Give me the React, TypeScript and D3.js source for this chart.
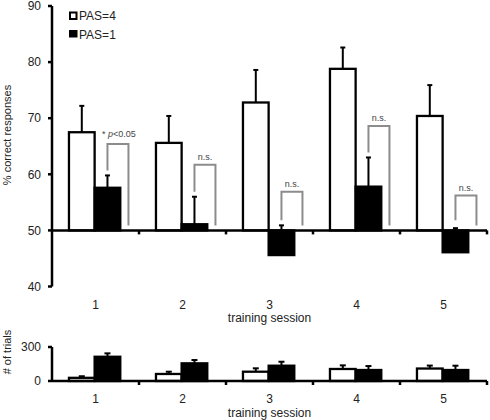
import React from 'react';
import * as d3 from 'd3';

const sessions = ['1', '2', '3', '4', '5'];
const pas4Pct = [67.5, 65.6, 72.8, 78.8, 70.4];
const pas4PctErr = [4.7, 4.8, 5.8, 3.8, 5.5];
const pas1Pct = [57.6, 51.1, 45.6, 57.8, 46.1];
const pas1PctErr = [2.2, 4.9, 5.3, 5.2, 4.3];
const bracketTop = [65.4, 61.7, 56.9, 68.6, 56.2];
const sigLabels = ['* p<0.05', 'n.s.', 'n.s.', 'n.s.', 'n.s.'];
const pas4Trials = [28, 62, 82, 106, 110];
const pas4TrialsErr = [14, 20, 30, 32, 26];
const pas1Trials = [214, 156, 135, 97, 97];
const pas1TrialsErr = [30, 29, 35, 35, 38];
const pctTicks = [40, 50, 60, 70, 80, 90];
const trialTicks = [0, 300];
const groups = ['PAS=4', 'PAS=1'];

const FONT = 'Arial, "Liberation Sans", sans-serif';

export default function App() {
  const x = d3.scaleBand<string>().domain(sessions).range([52, 487]).padding(0);
  const bw = x.bandwidth();
  const xs = d3.scaleBand<string>().domain(groups).range([bw * 0.195, bw * 0.785]).padding(0);
  const sw = xs.bandwidth();

  const y = d3.scaleLinear().domain([40, 90]).range([286.5, 6]);
  const y2 = d3.scaleLinear().domain([0, 300]).range([381, 347]);

  const boundaries = sessions.map((s) => (x(s) as number) + bw);

  const renderBars = (
    yS: d3.ScaleLinear<number, number>,
    base: number,
    v4: number[],
    e4: number[],
    v1: number[],
    e1: number[],
    cap: number
  ) =>
    sessions.map((s, i) => {
      const x0 = x(s) as number;
      const items = [
        { g: 'PAS=4', v: v4[i], e: e4[i], fill: '#fff' },
        { g: 'PAS=1', v: v1[i], e: e1[i], fill: '#000' },
      ];
      return (
        <g key={s}>
          {items.map((it) => {
            const bx = x0 + (xs(it.g) as number);
            const cx = bx + sw / 2;
            const top = Math.min(yS(it.v), yS(base));
            const h = Math.abs(yS(it.v) - yS(base));
            return (
              <g key={it.g}>
                <line x1={cx} x2={cx} y1={yS(it.v)} y2={yS(it.v + it.e)} stroke="#000" strokeWidth={2} />
                <line x1={cx - cap} x2={cx + cap} y1={yS(it.v + it.e)} y2={yS(it.v + it.e)} stroke="#000" strokeWidth={2} />
                <rect x={bx} y={top} width={sw} height={h} fill={it.fill} stroke="#000" strokeWidth={2.3} />
              </g>
            );
          })}
        </g>
      );
    });

  const base = y(50);

  return (
    <svg width={490} height={420} style={{ position: 'absolute', left: 0, top: 0, background: '#fff' }} fontFamily={FONT}>
      {/* upper chart */}
      {renderBars(y, 50, pas4Pct, pas4PctErr, pas1Pct, pas1PctErr, 2.5)}

      {/* significance brackets */}
      {sessions.map((s, i) => {
        const x0 = x(s) as number;
        const lx = x0 + (xs('PAS=1') as number) + sw / 2;
        const rx = lx + 21;
        const ty = y(bracketTop[i]);
        const errTop = Math.min(y(pas1Pct[i] + pas1PctErr[i]), y(50.9));
        const lb = errTop - 5;
        const rb = base - 5;
        const label = sigLabels[i];
        const cx = (lx + rx) / 2;
        return (
          <g key={'b' + s}>
            <path d={`M${lx},${lb}V${ty}H${rx}V${rb}`} fill="none" stroke="#8c8c8c" strokeWidth={2} />
            {label.startsWith('*') ? (
              <text x={cx + 1} y={ty - 7} textAnchor="middle" fontSize={9} fill="#444">
                {'* '}
                <tspan fontStyle="italic">p</tspan>
                {label.replace('* p', '')}
              </text>
            ) : (
              <text x={cx} y={ty - 5} textAnchor="middle" fontSize={9} fill="#444">
                {label}
              </text>
            )}
          </g>
        );
      })}

      {/* y axis upper */}
      <line x1={52} x2={52} y1={y(90)} y2={y(40)} stroke="#000" strokeWidth={2.5} />
      {pctTicks.map((t) => (
        <g key={'yt' + t}>
          <line x1={48} x2={52} y1={y(t)} y2={y(t)} stroke="#000" strokeWidth={2.5} />
          <text x={41} y={y(t)} dy="0.35em" textAnchor="end" fontSize={12} fill="#222">
            {t}
          </text>
        </g>
      ))}
      {/* x axis upper */}
      <line x1={52} x2={487} y1={base} y2={base} stroke="#000" strokeWidth={2.5} />
      {boundaries.map((b, i) => (
        <line key={'xt' + i} x1={b} x2={b} y1={base} y2={base + 4} stroke="#000" strokeWidth={2.5} />
      ))}
      {sessions.map((s) => (
        <text key={'xl' + s} x={(x(s) as number) + bw / 2} y={309} textAnchor="middle" fontSize={12} fill="#222">
          {s}
        </text>
      ))}
      <text x={269.5} y={322} textAnchor="middle" fontSize={12} fill="#222">
        training session
      </text>
      <text transform="translate(11,135) rotate(-90)" textAnchor="middle" fontSize={11} fill="#222">
        % correct responses
      </text>

      {/* legend */}
      <rect x={70} y={12.5} width={6.5} height={6.5} fill="#fff" stroke="#000" strokeWidth={2} />
      <text x={79} y={20} fontSize={12} fill="#222">{groups[0]}</text>
      <rect x={69} y={30} width={8.5} height={7.5} fill="#000" />
      <text x={79} y={38.5} fontSize={12} fill="#222">{groups[1]}</text>

      {/* lower chart */}
      {renderBars(y2, 0, pas4Trials, pas4TrialsErr, pas1Trials, pas1TrialsErr, 3)}
      <line x1={52} x2={52} y1={y2(300)} y2={y2(0)} stroke="#000" strokeWidth={2.5} />
      {trialTicks.map((t) => (
        <g key={'y2t' + t}>
          <line x1={48} x2={52} y1={y2(t)} y2={y2(t)} stroke="#000" strokeWidth={2.5} />
          <text x={41} y={y2(t)} dy="0.35em" textAnchor="end" fontSize={12} fill="#222">
            {t}
          </text>
        </g>
      ))}
      <line x1={52} x2={487} y1={y2(0)} y2={y2(0)} stroke="#000" strokeWidth={2.5} />
      {boundaries.map((b, i) => (
        <line key={'x2t' + i} x1={b} x2={b} y1={y2(0)} y2={y2(0) + 4} stroke="#000" strokeWidth={2.5} />
      ))}
      {sessions.map((s) => (
        <text key={'x2l' + s} x={(x(s) as number) + bw / 2} y={402.5} textAnchor="middle" fontSize={12} fill="#222">
          {s}
        </text>
      ))}
      <text x={269.5} y={417} textAnchor="middle" fontSize={12} fill="#222">
        training session
      </text>
      <text transform="translate(11,352) rotate(-90)" textAnchor="middle" fontSize={11} fill="#222">
        # of trials
      </text>
    </svg>
  );
}
